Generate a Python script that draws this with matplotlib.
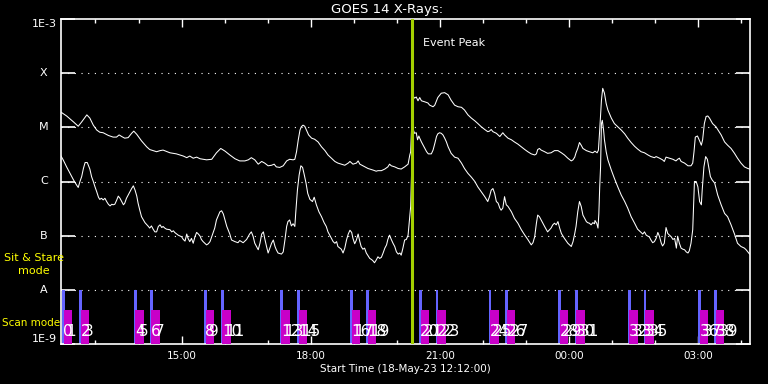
import numpy as np
import matplotlib
matplotlib.use('Agg')
import matplotlib.pyplot as plt
import matplotlib.transforms as mtransforms

# Время в часах от начала (18-May-23 12:12), значения — log10 потока, Вт/м^2
long_t = [0.00, 0.13, 0.29, 0.40, 0.48, 0.60, 0.67, 0.75, 0.83, 0.90, 0.98, 1.10, 1.21, 1.29,
          1.35, 1.41, 1.48, 1.56, 1.64, 1.69, 1.76, 1.87, 1.99, 2.06, 2.22, 2.30, 2.37, 2.53,
          2.68, 2.84, 2.92, 2.99, 3.07, 3.15, 3.23, 3.38, 3.50, 3.61, 3.71, 3.81, 3.92, 4.04,
          4.15, 4.27, 4.35, 4.42, 4.50, 4.58, 4.66, 4.73, 4.81, 4.89, 4.95, 5.00, 5.08, 5.16,
          5.24, 5.31, 5.39, 5.43, 5.47, 5.51, 5.55, 5.58, 5.62, 5.66, 5.70, 5.75, 5.82, 5.89,
          5.97, 6.05, 6.13, 6.20, 6.28, 6.36, 6.43, 6.51, 6.59, 6.67, 6.71, 6.78, 6.86, 6.90,
          6.94, 7.01, 7.13, 7.25, 7.32, 7.36, 7.44, 7.52, 7.59, 7.63, 7.67, 7.75, 7.83, 7.90,
          7.98, 8.06, 8.10, 8.12, 8.17, 8.21, 8.25, 8.29, 8.33, 8.37, 8.45, 8.52, 8.56, 8.64,
          8.68, 8.75, 8.83, 8.91, 8.99, 9.06, 9.14, 9.22, 9.30, 9.37, 9.45, 9.53, 9.61, 9.68,
          9.76, 9.84, 9.91, 9.95, 9.99, 10.03, 10.11, 10.19, 10.22, 10.26, 10.30, 10.38, 10.46,
          10.53, 10.61, 10.69, 10.77, 10.84, 10.92, 11.00, 11.04, 11.07, 11.11, 11.15, 11.23,
          11.30, 11.38, 11.46, 11.54, 11.62, 11.69, 11.77, 11.85, 11.89, 11.93, 11.96, 12.00,
          12.04, 12.08, 12.12, 12.20, 12.27, 12.35, 12.40, 12.45, 12.48, 12.51, 12.55, 12.58,
          12.62, 12.66, 12.70, 12.78, 12.85, 12.93, 13.01, 13.09, 13.16, 13.24, 13.32, 13.39,
          13.47, 13.55, 13.63, 13.70, 13.78, 13.82, 13.90, 13.97, 14.01, 14.05, 14.13, 14.21,
          14.28, 14.32, 14.36, 14.40, 14.48, 14.56, 14.63, 14.67, 14.70, 14.73, 14.78, 14.83,
          14.87, 14.90, 14.94, 14.98, 15.02, 15.06, 15.13, 15.21, 15.25, 15.33, 15.41, 15.48,
          15.56, 15.64, 15.71, 15.79, 15.87, 15.95, 15.99]
long_lg = [-4.72, -4.79, -4.90, -4.98, -4.90, -4.77, -4.83, -4.96, -5.05, -5.09, -5.10, -5.15,
           -5.18, -5.18, -5.14, -5.17, -5.20, -5.19, -5.11, -5.07, -5.13, -5.25, -5.36, -5.41,
           -5.45, -5.43, -5.42, -5.47, -5.49, -5.53, -5.56, -5.53, -5.57, -5.55, -5.58, -5.60,
           -5.59, -5.47, -5.39, -5.44, -5.51, -5.58, -5.62, -5.62, -5.60, -5.56, -5.60, -5.68,
           -5.63, -5.66, -5.71, -5.70, -5.68, -5.73, -5.74, -5.71, -5.62, -5.59, -5.60, -5.59,
           -5.45, -5.23, -5.05, -4.99, -4.96, -4.98, -5.05, -5.14, -5.20, -5.22, -5.27, -5.36,
           -5.43, -5.51, -5.57, -5.63, -5.66, -5.68, -5.70, -5.66, -5.63, -5.68, -5.66, -5.62,
           -5.68, -5.71, -5.76, -5.79, -5.81, -5.80, -5.80, -5.77, -5.73, -5.68, -5.71, -5.73,
           -5.76, -5.77, -5.73, -5.68, -5.51, -5.45, -4.42, -4.46, -4.44, -4.51, -4.45, -4.51,
           -4.53, -4.55, -4.59, -4.62, -4.59, -4.45, -4.37, -4.36, -4.40, -4.50, -4.59, -4.62,
           -4.63, -4.68, -4.77, -4.83, -4.88, -4.93, -4.99, -5.04, -5.08, -5.07, -5.04, -5.08,
           -5.11, -5.17, -5.14, -5.10, -5.14, -5.20, -5.23, -5.27, -5.31, -5.36, -5.41, -5.45,
           -5.49, -5.51, -5.49, -5.41, -5.39, -5.42, -5.45, -5.48, -5.47, -5.43, -5.43, -5.47,
           -5.51, -5.57, -5.62, -5.60, -5.55, -5.47, -5.39, -5.28, -5.33, -5.39, -5.43, -5.45,
           -5.47, -5.44, -5.47, -5.42, -5.05, -4.50, -4.28, -4.37, -4.56, -4.68, -4.83, -4.93,
           -4.99, -5.05, -5.12, -5.20, -5.28, -5.35, -5.40, -5.45, -5.47, -5.51, -5.54, -5.56,
           -5.54, -5.57, -5.60, -5.63, -5.55, -5.57, -5.59, -5.62, -5.59, -5.57, -5.63, -5.66,
           -5.71, -5.71, -5.66, -5.45, -5.18, -5.16, -5.25, -5.33, -5.23, -4.93, -4.80, -4.79,
           -4.83, -4.93, -4.99, -5.04, -5.14, -5.27, -5.33, -5.39, -5.48, -5.57, -5.66, -5.73,
           -5.76, -5.77]

short_t = [0.00, 0.05, 0.13, 0.21, 0.29, 0.35, 0.40, 0.44, 0.48, 0.52, 0.56, 0.61, 0.67, 0.71,
           0.75, 0.79, 0.83, 0.87, 0.90, 0.94, 0.98, 1.02, 1.06, 1.10, 1.14, 1.18, 1.21, 1.25,
           1.29, 1.33, 1.37, 1.41, 1.45, 1.48, 1.52, 1.56, 1.60, 1.64, 1.68, 1.72, 1.76, 1.79,
           1.83, 1.87, 1.95, 2.03, 2.06, 2.10, 2.14, 2.18, 2.22, 2.26, 2.30, 2.34, 2.37, 2.41,
           2.45, 2.53, 2.57, 2.61, 2.64, 2.72, 2.80, 2.84, 2.88, 2.92, 2.95, 2.99, 3.03, 3.07,
           3.11, 3.15, 3.19, 3.23, 3.26, 3.30, 3.34, 3.38, 3.42, 3.46, 3.50, 3.57, 3.61, 3.69,
           3.73, 3.77, 3.85, 3.92, 3.96, 4.04, 4.11, 4.15, 4.23, 4.31, 4.38, 4.42, 4.46, 4.50,
           4.58, 4.62, 4.66, 4.70, 4.73, 4.77, 4.81, 4.85, 4.89, 4.93, 4.97, 5.00, 5.04, 5.12,
           5.16, 5.20, 5.24, 5.27, 5.31, 5.35, 5.39, 5.43, 5.45, 5.49, 5.53, 5.57, 5.61, 5.65,
           5.69, 5.73, 5.78, 5.84, 5.88, 5.93, 5.99, 6.05, 6.11, 6.16, 6.20, 6.24, 6.28, 6.32,
           6.36, 6.40, 6.43, 6.51, 6.55, 6.59, 6.63, 6.67, 6.71, 6.75, 6.78, 6.82, 6.86, 6.90,
           6.94, 6.97, 7.01, 7.05, 7.09, 7.17, 7.21, 7.24, 7.28, 7.32, 7.36, 7.40, 7.44, 7.48,
           7.52, 7.56, 7.59, 7.63, 7.67, 7.71, 7.75, 7.79, 7.83, 7.87, 7.90, 7.94, 7.98, 8.02,
           8.06, 8.10, 8.12, 8.17, 8.21, 8.25, 8.28, 8.31, 8.33, 8.37, 8.41, 8.45, 8.49, 8.53,
           8.60, 8.64, 8.68, 8.72, 8.75, 8.79, 8.83, 8.87, 8.91, 8.95, 8.99, 9.06, 9.14, 9.22,
           9.30, 9.37, 9.45, 9.53, 9.61, 9.68, 9.76, 9.84, 9.91, 9.95, 9.99, 10.03, 10.07, 10.11,
           10.15, 10.19, 10.22, 10.26, 10.30, 10.34, 10.38, 10.46, 10.53, 10.61, 10.69, 10.77,
           10.84, 10.92, 10.96, 11.00, 11.04, 11.07, 11.11, 11.15, 11.23, 11.30, 11.38, 11.42,
           11.46, 11.50, 11.54, 11.58, 11.62, 11.69, 11.77, 11.85, 11.89, 11.93, 11.96, 12.00,
           12.04, 12.08, 12.12, 12.16, 12.20, 12.23, 12.27, 12.31, 12.35, 12.39, 12.40, 12.44,
           12.47, 12.49, 12.51, 12.53, 12.55, 12.57, 12.60, 12.62, 12.66, 12.70, 12.78, 12.85,
           12.93, 13.01, 13.09, 13.16, 13.24, 13.32, 13.39, 13.47, 13.51, 13.55, 13.59, 13.63,
           13.66, 13.70, 13.74, 13.78, 13.82, 13.86, 13.90, 13.94, 13.97, 14.01, 14.05, 14.09,
           14.13, 14.17, 14.21, 14.25, 14.27, 14.29, 14.32, 14.36, 14.40, 14.44, 14.48, 14.52,
           14.56, 14.59, 14.63, 14.67, 14.71, 14.75, 14.79, 14.83, 14.87, 14.89, 14.93, 14.97,
           15.01, 15.04, 15.08, 15.12, 15.18, 15.25, 15.33, 15.41, 15.48, 15.56, 15.64, 15.71,
           15.79, 15.87, 15.91, 15.99]
short_lg = [-5.53, -5.60, -5.73, -5.85, -5.97, -6.05, -6.11, -6.00, -5.91, -5.76, -5.65, -5.65,
            -5.77, -5.91, -6.00, -6.10, -6.19, -6.29, -6.33, -6.31, -6.34, -6.31, -6.37, -6.42,
            -6.45, -6.42, -6.43, -6.42, -6.35, -6.27, -6.31, -6.37, -6.43, -6.40, -6.31, -6.25,
            -6.19, -6.13, -6.08, -6.16, -6.27, -6.40, -6.53, -6.65, -6.76, -6.83, -6.86, -6.82,
            -6.88, -6.93, -6.93, -6.83, -6.80, -6.85, -6.83, -6.86, -6.88, -6.89, -6.93, -6.91,
            -6.94, -6.99, -7.02, -7.07, -7.10, -6.97, -7.05, -7.11, -7.05, -7.14, -7.02, -6.94,
            -6.97, -7.01, -7.07, -7.11, -7.14, -7.17, -7.15, -7.11, -7.02, -6.86, -6.71, -6.56,
            -6.54, -6.60, -6.83, -6.97, -7.08, -7.11, -7.13, -7.09, -7.13, -7.07, -6.97, -6.93,
            -7.01, -7.14, -7.26, -7.14, -6.97, -6.93, -7.05, -7.19, -7.32, -7.23, -7.14, -7.08,
            -7.20, -7.26, -7.32, -7.34, -7.30, -7.08, -6.83, -6.74, -6.71, -6.82, -6.78, -6.83,
            -6.59, -6.16, -5.88, -5.71, -5.74, -5.88, -6.03, -6.22, -6.33, -6.37, -6.29, -6.43,
            -6.56, -6.65, -6.76, -6.83, -6.93, -6.99, -7.05, -7.11, -7.14, -7.11, -7.20, -7.25,
            -7.32, -7.23, -7.08, -6.97, -6.90, -6.94, -7.05, -7.15, -7.08, -6.97, -7.11, -7.20,
            -7.25, -7.23, -7.32, -7.42, -7.44, -7.46, -7.50, -7.45, -7.39, -7.42, -7.40, -7.32,
            -7.23, -7.17, -7.07, -6.99, -7.07, -7.14, -7.20, -7.30, -7.34, -7.32, -7.36, -7.23,
            -7.08, -7.07, -6.99, -6.65, -6.46, -5.02, -5.11, -5.10, -5.23, -5.16, -5.20, -5.27,
            -5.33, -5.39, -5.45, -5.49, -5.49, -5.42, -5.30, -5.17, -5.12, -5.10, -5.11, -5.14,
            -5.20, -5.27, -5.36, -5.48, -5.55, -5.57, -5.66, -5.76, -5.85, -5.92, -6.00, -6.10,
            -6.19, -6.28, -6.37, -6.28, -6.16, -6.13, -6.22, -6.37, -6.40, -6.49, -6.53, -6.49,
            -6.28, -6.43, -6.46, -6.56, -6.68, -6.77, -6.89, -6.99, -7.07, -7.17, -7.13, -7.02,
            -6.77, -6.62, -6.65, -6.71, -6.83, -6.93, -6.86, -6.80, -6.77, -6.80, -6.74, -6.86,
            -6.96, -7.05, -7.14, -7.20, -7.11, -6.96, -6.83, -6.56, -6.37, -6.46, -6.62, -6.68,
            -6.74, -6.76, -6.77, -6.80, -6.76, -6.78, -6.72, -6.77, -6.86, -6.59, -6.10, -5.73,
            -4.93, -4.87, -5.05, -5.23, -5.45, -5.60, -5.79, -5.94, -6.10, -6.25, -6.37, -6.49,
            -6.65, -6.77, -6.88, -6.94, -6.97, -6.93, -6.99, -7.01, -7.02, -7.08, -7.13, -7.11,
            -7.05, -6.94, -7.02, -7.14, -7.19, -7.14, -6.85, -6.96, -6.99, -7.02, -7.07, -7.05,
            -7.14, -7.23, -7.01, -7.14, -7.23, -7.25, -7.26, -7.30, -7.32, -7.28, -7.14, -6.89,
            -6.00, -6.00, -6.10, -6.37, -6.43, -6.16, -5.73, -5.54, -5.59, -5.73, -5.91, -5.97,
            -6.03, -6.25, -6.43, -6.59, -6.65, -6.80, -6.97, -7.14, -7.20, -7.23, -7.26, -7.34]

# Начала наблюдений (часы от 12:12)
scan_t = [0.02, 0.42, 1.69, 2.06, 3.32, 3.71, 5.08, 5.48, 6.71, 7.08,
          8.31, 8.70, 9.93, 10.32, 11.55, 11.93, 13.16, 13.53, 14.80, 15.17]
event_peak = 8.14

tick_major = [2.8, 5.8, 8.8, 11.8, 14.8]
tick_labels = ['15:00', '18:00', '21:00', '00:00', '03:00']
tick_minor = [0.8, 1.8, 3.8, 4.8, 6.8, 7.8, 9.8, 10.8, 12.8, 13.8, 15.8]

levels = [1e-3, 1e-4, 1e-5, 1e-6, 1e-7, 1e-8, 1e-9]
level_names = ['1E-3', 'X', 'M', 'C', 'B', 'A', '1E-9']

plt.rcParams['font.family'] = 'DejaVu Sans'
fig = plt.figure(figsize=(7.68, 3.84), dpi=100, facecolor='black')
ax = fig.add_axes([61/768, 1-344/384, 689/768, 325/384], facecolor='black')

ax.set_yscale('log')
ax.set_xlim(0, 16)
ax.set_ylim(1e-9, 1e-3)

# Полосы режимов наблюдения
ax.bar(scan_t, [1e-8 - 1e-9]*len(scan_t), bottom=1e-9, width=0.065, align='edge',
       color='#6464ff', zorder=2)
ax.bar([t + 0.04 for t in scan_t], [4.3e-9 - 1e-9]*len(scan_t), bottom=1e-9, width=0.19,
       align='edge', color='#c800c8', zorder=3)

trans = mtransforms.blended_transform_factory(ax.transData, ax.transAxes)
for j, t in enumerate(scan_t):
    ax.text(t + 0.03, 0.037, str(2*j), color='white', fontsize=11, ha='left', va='center',
            transform=trans, zorder=5)
    ax.text(t + 0.11, 0.037, str(2*j + 1), color='white', fontsize=11, ha='left', va='center',
            transform=trans, zorder=5)

# Уровни классов
for lv in levels[1:-1]:
    ax.axhline(lv, color='white', lw=0.8, ls=(0, (1, 5)), zorder=1)

ax.plot(long_t, 10**np.array(long_lg), color='white', lw=0.75, zorder=4)
ax.plot(short_t, 10**np.array(short_lg), color='white', lw=0.75, zorder=4)

ax.axvline(event_peak, color='#a4d000', lw=2.2, zorder=6)
ax.text(8.40, 0.926, 'Event Peak', color='white', fontsize=8, ha='left', va='center',
        transform=trans)

for s in ax.spines.values():
    s.set_color('white')
    s.set_linewidth(1.2)

ax.set_yticks(levels)
ax.yaxis.set_minor_locator(matplotlib.ticker.NullLocator())
ax.tick_params(axis='y', which='major', direction='in', length=10, width=1.2, color='white',
               left=True, right=True, labelleft=False)
ax.set_xticks(tick_major)
ax.set_xticklabels(tick_labels)
ax.set_xticks(tick_minor, minor=True)
ax.tick_params(axis='x', which='major', direction='in', length=5.5, width=1, color='white',
               top=True, bottom=True, labelcolor='white', labelsize=7.5, pad=5)
ax.tick_params(axis='x', which='minor', direction='in', length=3, width=1, color='white',
               top=True, bottom=True)

ytrans = mtransforms.blended_transform_factory(ax.transAxes, ax.transData)
for lv, name in zip(levels, level_names):
    va = 'center'
    if name == '1E-3':
        va = 'top'
    elif name == '1E-9':
        va = 'bottom'
    ax.text(-0.0247, lv, name, color='white', fontsize=8, ha='center', va=va,
            transform=ytrans, clip_on=False)

fig.text(387/768, 1 - 9.5/384, 'GOES 14 X-Rays:', color='white', fontsize=9.5,
         ha='center', va='center')
fig.text(405/768, 1 - 369/384, 'Start Time (18-May-23 12:12:00)', color='white',
         fontsize=7.5, ha='center', va='center')
fig.text(34/768, 1 - 258/384, 'Sit & Stare', color='yellow', fontsize=8, ha='center',
         va='center')
fig.text(34/768, 1 - 271/384, 'mode', color='yellow', fontsize=8, ha='center', va='center')
fig.text(2/768, 1 - 323/384, 'Scan mode', color='yellow', fontsize=7.5, ha='left',
         va='center')

fig.savefig('out.png', dpi=100, facecolor='black')
